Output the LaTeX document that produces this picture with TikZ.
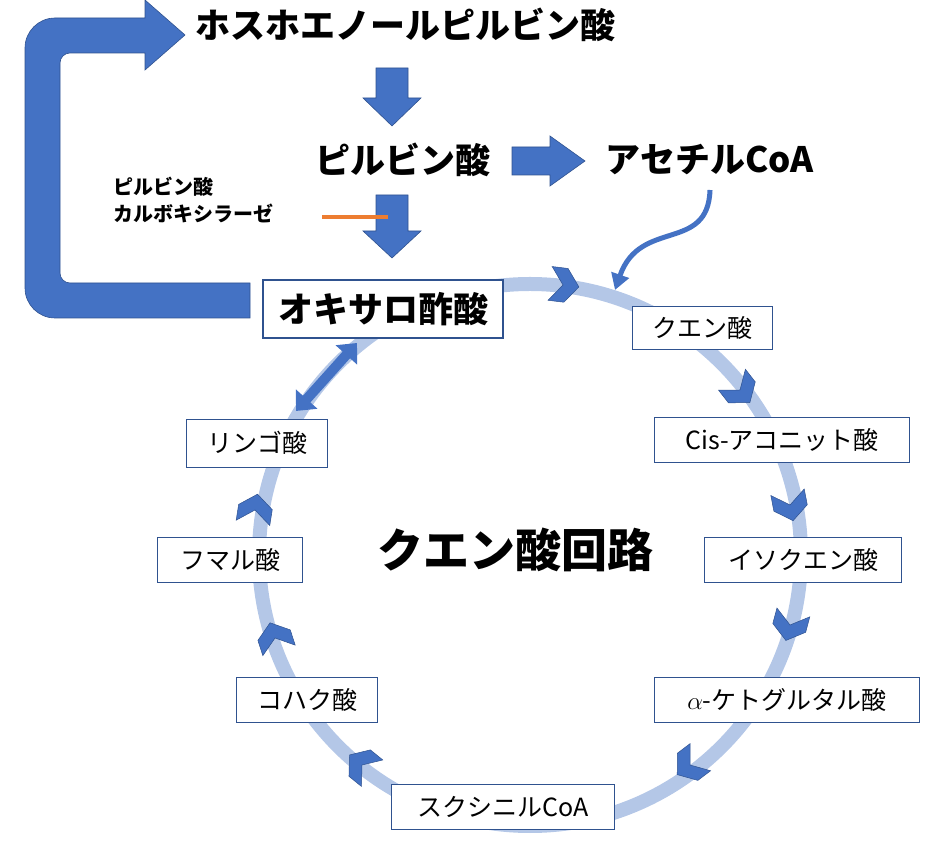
\documentclass[tikz,border=0pt]{standalone}
\usepackage{fontspec}
\setmainfont{Noto Sans CJK JP}
\usetikzlibrary{arrows.meta}
\definecolor{blk}{HTML}{4472C4}
\definecolor{bdr}{HTML}{2F528F}
\definecolor{ring}{HTML}{B4C7E7}
\definecolor{org}{HTML}{ED7D31}
\tikzset{x=1pt,y=1pt,
 box/.style={draw=bdr,line width=0.8pt,fill=white,inner sep=0pt,font=\fontsize{25}{28}\selectfont},
 big/.style={font=\bfseries\fontsize{35}{40}\selectfont},
 blockarrow/.style={fill=blk,draw=bdr,line width=0.6pt},
 chev/.style={fill=blk,draw=bdr,line width=0.5pt}}
\newcommand{\chevat}[2]{\fill[chev,shift={#1},rotate=#2] (-13,-17)--(3,-17)--(16,0)--(3,17)--(-13,17)--(0,0)--cycle;}
\begin{document}
\begin{tikzpicture}
\useasboundingbox (0,0) rectangle (939,843);
\coordinate (C) at (530,288);
\draw[ring,line width=14pt] (C) circle (271);
% chevrons
\chevat{(563,558)}{-7}
\chevat{(740,453)}{-52}
\chevat{(790,338)}{-79}
\chevat{(790,218)}{-105}
\chevat{(690,78)}{-143}
\chevat{(362,78)}{141}
\chevat{(275,205)}{108}
\chevat{(255,333)}{81}
\draw[blk,line width=10pt,{Triangle[length=16pt,width=28pt]}-{Triangle[length=16pt,width=28pt]}] (296,432)--(357,500);
% boxes
\node[box,minimum width=140,minimum height=43] (ku) at (702,515) {クエン酸};
\node[box,minimum width=255,minimum height=45] (cis) at (782,403) {Cis-アコニット酸};
\node[box,minimum width=197,minimum height=45] (iso) at (803,283) {イソクエン酸};
\node[box,minimum width=265,minimum height=45] (kg) at (787,143) {$\alpha$-ケトグルタル酸};
\node[box,minimum width=223,minimum height=45] (suc) at (503,36) {スクシニルCoA};
\node[box,minimum width=141,minimum height=45] (ko) at (307,143) {コハク酸};
\node[box,minimum width=145,minimum height=45] (fu) at (230,283) {フマル酸};
\node[box,minimum width=141,minimum height=48] (ri) at (257,400) {リンゴ酸};
\node[box,line width=1.5pt,minimum width=240,minimum height=58,big] (ox) at (383,534) {オキサロ酢酸};
\node[font=\bfseries\fontsize{46}{50}\selectfont] (title) at (515,293) {クエン酸回路};
% top part
\node[big] (pep) at (405,818) {ホスホエノールピルビン酸};
\node[big] (pyr) at (403,683) {ピルビン酸};
\node[big] (acoa) at (710,683) {アセチルCoA};
\node[font=\bfseries\fontsize{20}{27}\selectfont,align=left] (enz) at (193,643) {ピルビン酸\\カルボキシラーゼ};
\path[blockarrow] (376,775)--(408,775)--(408,745)--(421,745)--(392,717)--(363,745)--(376,745)--cycle;
\path[blockarrow] (376,648)--(408,648)--(408,612)--(421,612)--(392,585)--(363,612)--(376,612)--cycle;
\path[blockarrow] (512,668)--(550,668)--(550,657)--(585,682)--(550,707)--(550,696)--(512,696)--cycle;
\coordinate (ol1) at (322,626);
\coordinate (ol2) at (388,626);
\draw[org,line width=3.5pt] (ol1)--(ol2);
\draw[blk,line width=5pt,-{Triangle[length=16pt,width=18pt]}] (710,653) .. controls (708,590) and (640,625) .. (615,553);
\path[blockarrow,rounded corners=30pt] (250,525)--(25,525)--(25,825)[rounded corners=0pt]--(145,825)--(145,843)--(185,808)--(145,773)--(145,790)[rounded corners=10pt]--(60,790)--(60,560)[rounded corners=0pt]--(250,560)--cycle;
\end{tikzpicture}
\end{document}
